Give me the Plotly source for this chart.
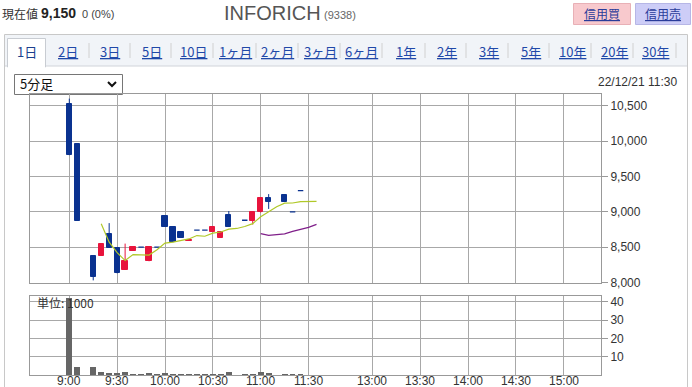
import plotly.graph_objects as go

W, H = 692, 387

# ---------------- data ----------------
times = ["9:00", "9:05", "9:15", "9:20", "9:25", "9:30", "9:35", "9:40", "9:45", "9:50",
         "9:55", "10:00", "10:05", "10:10", "10:15", "10:20", "10:25", "10:30", "10:35",
         "10:40", "10:50", "10:55", "11:00", "11:05", "11:15", "11:20", "11:25"]
opens = [10520, 9960, 8370, 8380, 8690, 8490, 8180, 8450, 8500, 8300,
         8500, 8940, 8790, 8710, 8590, 8740, 8740, 8720, 8630,
         8950, 8880, 8870, 8990, 9200, 9240, 9000, 9300]
highs = [10600, 9960, 8370, 8540, 8840, 8490, 8550, 8500, 8500, 8500,
         8500, 8940, 8790, 8710, 8600, 8740, 8740, 8790, 8710,
         9010, 8880, 8990, 9200, 9250, 9240, 9000, 9300]
lows = [9800, 8870, 8030, 8380, 8490, 8130, 8180, 8450, 8500, 8300,
        8500, 8790, 8570, 8630, 8590, 8740, 8740, 8720, 8630,
        8790, 8880, 8820, 8990, 9040, 9140, 9000, 9300]
closes = [9800, 8870, 8080, 8540, 8490, 8130, 8310, 8500, 8500, 8500,
          8500, 8790, 8570, 8630, 8600, 8740, 8740, 8790, 8710,
          8790, 8880, 8990, 9200, 9140, 9140, 9000, 9300]

vol_times = ["9:00", "9:05", "9:10", "9:15", "9:20", "9:25", "9:30", "9:35", "9:40", "9:45",
             "9:50", "9:55", "10:00", "10:05", "10:10", "10:15", "10:20", "10:25", "10:30",
             "10:35", "10:40", "10:45", "10:50", "10:55", "11:00", "11:05", "11:10", "11:15",
             "11:20", "11:25"]
volumes = [42, 4.3, 0, 4.3, 1.6, 1.1, 1.1, 1.6, 0.4, 0.4,
           1.1, 0.4, 1.1, 0.4, 0.3, 0.3, 0.3, 0.3, 0.3,
           0.3, 1.6, 0, 0.3, 0.3, 1.6, 1.1, 0, 0.3,
           0.3, 0.3]

ma5_times = ["9:20", "9:25", "9:30", "9:35", "9:40", "9:45", "9:50", "9:55", "10:00", "10:05",
             "10:10", "10:15", "10:20", "10:25", "10:30", "10:35", "10:40", "10:45", "10:50",
             "10:55", "11:00", "11:05", "11:10", "11:15", "11:20", "11:25", "11:30", "11:35"]
ma5 = [8832, 8570, 8422, 8310, 8394, 8386, 8388, 8462, 8558, 8572,
       8598, 8616, 8664, 8654, 8698, 8714, 8754, 8764, 8792,
       8832, 8930, 9000, 9070, 9122, 9124, 9144, 9146, 9148]

ma25_times = ["11:00", "11:05", "11:10", "11:15", "11:20", "11:25", "11:30", "11:35"]
ma25 = [8692, 8666, 8676, 8687, 8724, 8754, 8781, 8822]

tick_labels = ["9:00", "9:30", "10:00", "10:30", "11:00", "11:30",
               "13:00", "13:30", "14:00", "14:30", "15:00"]
price_ticks = [8000, 8500, 9000, 9500, 10000, 10500]
vol_ticks = [10, 20, 30, 40]

tabs = ["1日", "2日", "3日", "5日", "10日", "1ヶ月", "2ヶ月", "3ヶ月", "6ヶ月",
        "1年", "2年", "3年", "5年", "10年", "20年", "30年"]

# ---------------- helpers ----------------
def pos(t):
    h, m = map(int, t.split(":"))
    mins = h * 60 + m
    if mins <= 11 * 60 + 40:
        return mins - 540
    return mins - 590


def px(x):
    return x / W


def py(y):
    return 1 - y / H


RED = "#e8143c"
BLUE = "#0a3290"
GRID = "#a8a8a8"
TXT = "#333333"
FONT = "Liberation Sans, Arial, sans-serif"
JFONT = "Noto Sans CJK JP, sans-serif"

X0, X1 = 30, 601
PT, PB = 94, 282.5
VT, VB = 296, 375
xr = [(X0 - 69.3) / 1.595, (X1 - 69.3) / 1.595]

fig = go.Figure()

# candle bodies / wicks
half = 1.7
for color, pick in ((RED, lambda o, c: c > o), (BLUE, lambda o, c: c < o)):
    bx, bbase, bh = [], [], []
    wx, wy = [], []
    for t, o, h, l, c in zip(times, opens, highs, lows, closes):
        if not pick(o, c):
            continue
        x = pos(t)
        bx.append(x)
        bbase.append(min(o, c))
        bh.append(abs(c - o))
        wx += [x, x, None]
        wy += [l, h, None]
    fig.add_trace(go.Scatter(x=wx, y=wy, mode="lines", line=dict(color=color, width=1),
                             hoverinfo="skip", showlegend=False, xaxis="x", yaxis="y"))
    fig.add_trace(go.Bar(x=bx, y=bh, base=bbase, width=3.3,
                         marker=dict(color=color, line=dict(color=color, width=1)),
                         showlegend=False, xaxis="x", yaxis="y"))

# doji (open == close)
dx, dy = [], []
for t, o, c in zip(times, opens, closes):
    if o == c:
        x = pos(t)
        dx += [x - half, x + half, None]
        dy += [c, c, None]
fig.add_trace(go.Scatter(x=dx, y=dy, mode="lines", line=dict(color=BLUE, width=1.3),
                         showlegend=False, xaxis="x", yaxis="y"))

# moving averages
fig.add_trace(go.Scatter(x=[pos(t) for t in ma5_times], y=ma5, mode="lines",
                         line=dict(color="#b0c828", width=1.2), showlegend=False,
                         xaxis="x", yaxis="y"))
fig.add_trace(go.Scatter(x=[pos(t) for t in ma25_times], y=ma25, mode="lines",
                         line=dict(color="#80208a", width=1.3), showlegend=False,
                         xaxis="x", yaxis="y"))

# volume
fig.add_trace(go.Bar(x=[pos(t) for t in vol_times], y=volumes, width=3.6,
                     marker=dict(color="#666666", line=dict(width=0)),
                     showlegend=False, xaxis="x2", yaxis="y2"))

tickvals = [pos(t) for t in tick_labels]
axis_common = dict(range=xr, tickvals=tickvals, showgrid=True, gridcolor=GRID, gridwidth=1,
                   zeroline=False, showline=True, linecolor="#999999", mirror=True,
                   fixedrange=True, automargin=False, showticklabels=False, ticks="")

fig.update_layout(
    width=W, height=H, margin=dict(l=0, r=0, t=0, b=0, autoexpand=False),
    paper_bgcolor="white", plot_bgcolor="white", bargap=0, barmode="overlay",
    xaxis=dict(domain=[px(X0), px(X1)], anchor="y", **axis_common),
    xaxis2=dict(domain=[px(X0), px(X1)], anchor="y2", **axis_common),
    yaxis=dict(domain=[py(PB), py(PT)], range=[8000, 8000 + (PB - PT) / 0.07072],
               side="right", tickvals=price_ticks,
               ticktext=[f"{v:,}" for v in price_ticks], ticks="outside", ticklen=6,
               tickcolor="#999999", showgrid=True, gridcolor=GRID, zeroline=False,
               showline=True, linecolor="#999999", mirror=True, automargin=False,
               tickfont=dict(family=FONT, size=12, color=TXT), anchor="x"),
    yaxis2=dict(domain=[py(VB), py(VT)], range=[0, (VB - VT) / 1.83], side="right",
                tickvals=vol_ticks, ticks="outside", ticklen=6, tickcolor="#999999",
                showgrid=True, gridcolor=GRID, zeroline=False, showline=True,
                linecolor="#999999", mirror=True, automargin=False,
                tickfont=dict(family=FONT, size=12, color=TXT), anchor="x2"),
)

shapes = []
annotations = []


def rect(x0, y0, x1, y1, fill=None, line=None, lw=1, layer="below"):
    shapes.append(dict(type="rect", xref="paper", yref="paper", x0=px(x0), x1=px(x1),
                       y0=py(y1), y1=py(y0), fillcolor=fill or "rgba(0,0,0,0)",
                       line=dict(color=line or "rgba(0,0,0,0)", width=lw if line else 0),
                       layer=layer))


def line(x0, y0, x1, y1, color, lw=1):
    shapes.append(dict(type="line", xref="paper", yref="paper", x0=px(x0), x1=px(x1),
                       y0=py(y0), y1=py(y1), line=dict(color=color, width=lw), layer="below"))


def text(x, y, s, size=12, color=TXT, xa="left", family=FONT, ya="middle"):
    annotations.append(dict(xref="paper", yref="paper", x=px(x), y=py(y), text=s,
                            showarrow=False, xanchor=xa, yanchor=ya,
                            font=dict(family=family, size=size, color=color)))


# x-axis time labels (placed just under the volume panel)
for lab, tv in zip(tick_labels, tickvals):
    annotations.append(dict(xref="x2", yref="paper", x=tv, y=py(381), text=lab,
                            showarrow=False, xanchor="center", yanchor="middle",
                            font=dict(family=FONT, size=12, color=TXT)))

# outer panel
rect(4.5, 34.5, 687.5, 400, line="#c8c8c8")
rect(5, 35, 687, 66, fill="#f1f4f8")
line(5, 66, 687, 66, "#d0d4da")
rect(7.5, 38.5, 45.5, 67, fill="white", line="#c8ccd2")
rect(8, 60, 45, 68, fill="white")

# header
text(0, 14, "現在値", size=12, family=JFONT)
text(39, 13, "<b>9,150</b>", size=14, color="#222")
text(80, 14, "0 (0%)", size=11, color="#444")
text(222, 13, "INFORICH", size=20, color="#555")
text(322, 15, "(9338)", size=11, color="#666")
rect(573.5, 3.5, 630.5, 24.5, fill="#f8c9cd", line="#e8b0b6")
rect(635.5, 3.5, 690.5, 24.5, fill="#cdcdf7", line="#b6b6e6")
text(602, 14, "<u>信用買</u>", size=12, color="#2a3c9a", xa="center", family=JFONT)
text(663, 14, "<u>信用売</u>", size=12, color="#2a3c9a", xa="center", family=JFONT)

# tabs
tab_centers = [27, 67.5, 109.5, 151.5, 193, 235, 277, 320, 361.5, 405.5, 446.5, 488.5,
               530.5, 572, 614, 655.5]
for i, (lab, cx) in enumerate(zip(tabs, tab_centers)):
    if i == 0:
        text(cx, 51, lab, size=13, color="#1c3f8e", xa="center", family=JFONT)
    else:
        text(cx, 51, f"<u>{lab}</u>", size=13, color="#1f48a8", xa="center", family=JFONT)
for sx in [89, 130, 171, 213, 256, 298, 340, 382, 425, 466, 508, 549, 591, 633, 676]:
    line(sx, 43, sx, 58, "#d0d0d0")

# dropdown
rect(14.5, 74.5, 122.5, 94.5, fill="white", line="#767676")
text(18, 84, "5分足", size=13, color="#111", family=JFONT)
shapes.append(dict(type="path", xref="paper", yref="paper",
                   path=f"M {px(108)} {py(82)} L {px(112)} {py(86)} L {px(116)} {py(82)}",
                   line=dict(color="#111", width=2)))

text(680, 82, "22/12/21 11:30", size=12, color=TXT, xa="right")
text(35, 302, "単位: 1000", size=12, color=TXT, family=JFONT)

fig.update_layout(shapes=shapes, annotations=annotations)
fig.write_html("out.html")
